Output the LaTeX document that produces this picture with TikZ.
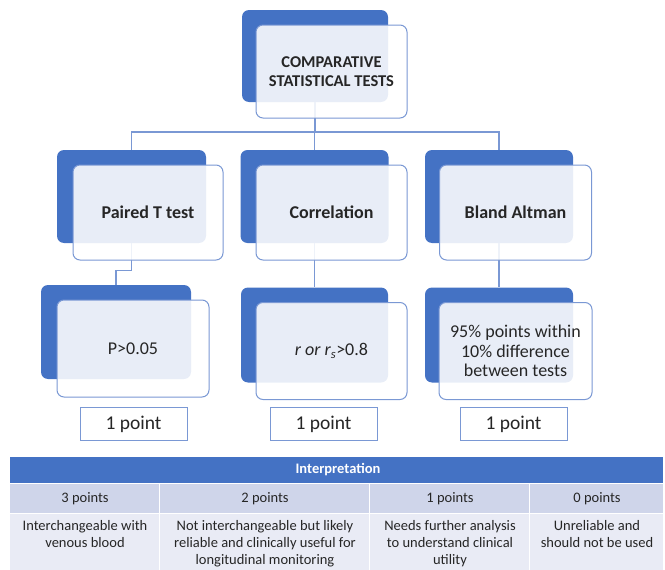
\documentclass[tikz,border=0pt]{standalone}
\usepackage{fontspec}
\setmainfont{Carlito}
\definecolor{mblue}{HTML}{4472C4}
\definecolor{lblue}{HTML}{7A98D4}
\definecolor{rowa}{HTML}{CFD5EA}
\definecolor{rowb}{HTML}{E9EBF5}
\begin{document}
\begin{tikzpicture}[x=1pt,y=-1pt,
  back/.style={fill=mblue,draw=none,rounded corners=7pt,inner sep=0pt},
  front/.style={fill=white,fill opacity=0.88,text opacity=1,draw=lblue,line width=1pt,rounded corners=7pt,inner sep=0pt,align=center,text=black!85},
  conn/.style={draw=lblue,line width=1.1pt},
  pointbox/.style={draw=lblue,line width=1pt,fill=white,minimum width=107pt,minimum height=33pt,inner sep=0pt,text=black!85,font=\fontsize{19.5}{22}\selectfont},
  hdr/.style={font=\fontsize{14.5}{17}\selectfont,text=black!85},
  cell/.style={font=\fontsize{14.5}{17}\selectfont,align=center,text=black!85,anchor=north,inner sep=2pt}]
\useasboundingbox (0,0) rectangle (665,570);
% back boxes
\node[back,minimum width=146pt,minimum height=92pt] (tb) at (315,56) {};
\node[back,minimum width=149pt,minimum height=93pt] (b1) at (131.5,196.5) {};
\node[back,minimum width=148pt,minimum height=93pt] (b2) at (314.5,196.5) {};
\node[back,minimum width=148pt,minimum height=93pt] (b3) at (499,196.5) {};
\node[back,minimum width=150pt,minimum height=94pt] (c1) at (116,332) {};
\node[back,minimum width=147pt,minimum height=95pt] (c2) at (314.5,335) {};
\node[back,minimum width=148pt,minimum height=95pt] (c3) at (499,335) {};
% connectors
\coordinate (hb) at (315,132);
\draw[conn] (tb.south) -- (hb);
\draw[conn] (b1.north) -- (b1.north |- hb) -- (b3.north |- hb) -- (b3.north);
\draw[conn] (b2.north |- hb) -- (b2.north);
\draw[conn] (b1.south) -- ++(0,27) -| (c1.north);
\draw[conn] (b2.south) -- (c2.north);
\draw[conn] (b3.south) -- (c3.north);
% front boxes
\node[front,minimum width=151pt,minimum height=93pt,font=\bfseries\fontsize{16.5}{18.5}\selectfont] (tf) at (331.5,71.5) {COMPARATIVE\\STATISTICAL TESTS};
\node[front,minimum width=150pt,minimum height=95pt,font=\bfseries\fontsize{18}{20}\selectfont] (f1) at (148,212.5) {Paired T test};
\node[front,minimum width=151pt,minimum height=95pt,font=\bfseries\fontsize{18}{20}\selectfont] (f2) at (331.5,212.5) {Correlation};
\node[front,minimum width=152pt,minimum height=95pt,font=\bfseries\fontsize{18}{20}\selectfont] (f3) at (515.5,212.5) {Bland Altman};
\node[front,minimum width=152pt,minimum height=97pt,font=\fontsize{18}{19.5}\selectfont] (g1) at (133,348.5) {P>0.05};
\node[front,minimum width=151pt,minimum height=97pt,font=\fontsize{18}{19.5}\selectfont] (g2) at (331.5,351) {\itshape r or r\textsubscript{s}\upshape >0.8};
\node[front,minimum width=153pt,minimum height=97pt,font=\fontsize{18}{19.5}\selectfont] (g3) at (515.5,351) {95\% points within\\10\% difference\\between tests};
% point boxes
\node[pointbox] (p1) at (133.5,424) {1 point};
\node[pointbox] (p2) at (323.5,424) {1 point};
\node[pointbox] (p3) at (513.5,424) {1 point};
% table
\fill[mblue] (10,457) rectangle (663,483);
\fill[rowa] (10,484) rectangle (159,513);
\fill[rowa] (160,484) rectangle (369,513);
\fill[rowa] (370,484) rectangle (529,513);
\fill[rowa] (530,484) rectangle (663,513);
\fill[rowb] (10,514) rectangle (159,570);
\fill[rowb] (160,514) rectangle (369,570);
\fill[rowb] (370,514) rectangle (529,570);
\fill[rowb] (530,514) rectangle (663,570);
\node[font=\bfseries\fontsize{14.5}{17}\selectfont,text=white] (th) at (338,470) {Interpretation};
\node[hdr] (h1) at (85,498.5) {3 points};
\node[hdr] (h2) at (265,498.5) {2 points};
\node[hdr] (h3) at (450,498.5) {1 points};
\node[hdr] (h4) at (597,498.5) {0 points};
\node[cell] (d1) at (85,518) {Interchangeable with\\venous blood};
\node[cell] (d2) at (265,518) {Not interchangeable but likely\\reliable and clinically useful for\\longitudinal monitoring};
\node[cell] (d3) at (450,518) {Needs further analysis\\to understand clinical\\utility};
\node[cell] (d4) at (597,518) {Unreliable and\\should not be used};
\end{tikzpicture}
\end{document}
